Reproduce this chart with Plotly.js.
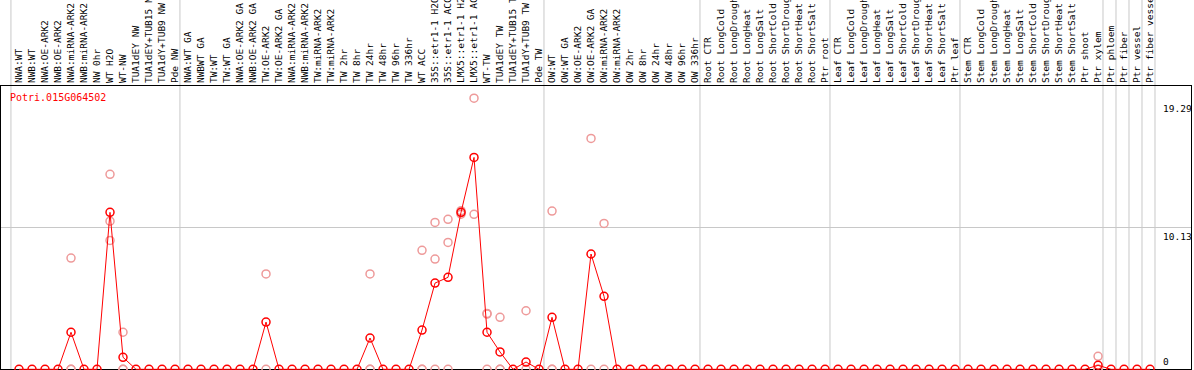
<!DOCTYPE html>
<html>
<head>
<meta charset="utf-8">
<script src="https://cdn.plot.ly/plotly-3.0.1.min.js"></script>
<style>
html,body{margin:0;padding:0;background:#fff;}
#chart{width:1194px;height:370px;}
</style>
</head>
<body>
<div id="chart"></div>
<script>
// ---- data ----
const geneName = "Potri.015G064502";

const samples = [
  "NWA:WT","NWB:WT","NWA:OE-ARK2","NWB:OE-ARK2","NWA:miRNA-ARK2","NWB:miRNA-ARK2",
  "NW 0hr","WT H2O","WT-NW","TUA1dEY NW","TUA1dEY+TUB15 NW","TUA1dY+TUB9 NW","Pde NW",
  "NWA:WT GA","NWBWT GA","TW:WT","TW:WT GA","NWA:OE-ARK2 GA","NWB:OE-ARK2 GA",
  "TW:OE-ARK2","TW:OE-ARK2 GA","NWA:miRNA-ARK2 GA","NWB:miRNA-ARK2 GA","TW:miRNA-ARK2",
  "TW:miRNA-ARK2","TW 2hr","TW 8hr","TW 24hr","TW 48hr","TW 96hr","TW 336hr","WT ACC",
  "35S::etr1-1 H2O","35S::etr1-1 ACC","LMX5::etr1-1 H2O","LMX5::etr1-1 ACC","WT-TW",
  "TUA1dEY TW","TUA1dEY+TUB15 TW","TUA1dY+TUB9 TW","Pde TW",
  "OW:WT","OW:WT GA","OW:OE-ARK2","OW:OE-ARK2 GA","OW:miRNA-ARK2","OW:miRNA-ARK2",
  "OW 2hr","OW 8hr","OW 24hr","OW 48hr","OW 96hr","OW 336hr",
  "Root CTR","Root LongCold","Root LongDrought","Root LongHeat","Root LongSalt",
  "Root ShortCold","Root ShortDrought","Root ShortHeat","Root ShortSalt","Ptr root",
  "Leaf CTR","Leaf LongCold","Leaf LongDrought","Leaf LongHeat","Leaf LongSalt",
  "Leaf ShortCold","Leaf ShortDrought","Leaf ShortHeat","Leaf ShortSalt","Ptr leaf",
  "Stem CTR","Stem LongCold","Stem LongDrought","Stem LongHeat","Stem LongSalt",
  "Stem ShortCold","Stem ShortDrought","Stem ShortHeat","Stem ShortSalt","Ptr shoot",
  "Ptr xylem","Ptr phloem","Ptr fiber","Ptr vessel","Ptr fiber vessel"
];

// group sizes (vertical separators drawn after each group)
const groupSizes = [13, 28, 12, 10, 10, 11, 1, 1, 1, 1];

// mean expression
const meanValues = [
  0,0,0,0,2.65,0,0,11.23,0.86,0,0,0,0,
  0,0,0,0,0,0,3.38,0,0,0,0,0,0,0,2.24,0,0,0,2.81,6.17,6.58,11.23,15.16,2.65,1.24,0,0.52,0,
  3.72,0,0,8.25,5.22,0,0,0,0,0,0,0,
  0,0,0,0,0,0,0,0,0,0,
  0,0,0,0,0,0,0,0,0,0,
  0,0,0,0,0,0,0,0,0,0,0.29,
  0,0,0,0
];

// replicate values (null = none drawn)
const rep1 = [
  null,null,null,null,7.96,null,null,13.95,2.65,null,null,null,null,
  null,null,null,null,null,null,6.82,null,null,null,null,null,null,null,6.82,null,null,null,8.51,10.51,10.73,11.35,19.40,4.00,3.72,null,4.19,null,
  11.32,null,null,16.52,10.44,null,null,null,null,null,null,null,
  null,null,null,null,null,null,null,null,null,null,
  null,null,null,null,null,null,null,null,null,null,
  null,null,null,null,null,null,null,null,null,null,0.93,
  null,null,null,null
];
const rep2 = [
  null,null,null,null,0,null,null,10.60,0,null,null,null,null,
  null,null,null,null,null,null,0,null,null,null,null,null,null,null,0,null,null,null,0,7.89,9.08,11.20,11.09,3.95,0,null,0,null,
  0,null,null,0,0,null,null,null,null,null,null,null,
  null,null,null,null,null,null,null,null,null,null,
  null,null,null,null,null,null,null,null,null,null,
  null,null,null,null,null,null,null,null,null,null,0,
  null,null,null,null
];
const rep3 = [
  null,null,null,null,0,null,null,9.22,0,null,null,null,null,
  null,null,null,null,null,null,null,null,null,null,null,null,null,null,0,null,null,null,0,0,0,11.10,null,0,0,null,null,null,
  0,null,null,null,null,null,null,null,null,null,null,null,
  null,null,null,null,null,null,null,null,null,null,
  null,null,null,null,null,null,null,null,null,null,
  null,null,null,null,null,null,null,null,null,null,0,
  null,null,null,null
];

const yTickVals = [0, 10.13, 19.29];
const yTickText = ["0", "10.13", "19.29"];

// ---- build ----
const idx = samples.map((_, i) => i);
const mono = '"DejaVu Sans Mono", "Liberation Mono", monospace';
const red = '#ff0000';
const pink = '#ee9a9a';

function repTrace(vals) {
  return {
    x: idx, y: vals, type: 'scatter', mode: 'markers',
    marker: {symbol: 'circle-open', size: 8, color: pink, line: {width: 1.5, color: pink}},
    hoverinfo: 'skip', showlegend: false, cliponaxis: false
  };
}

const traces = [
  repTrace(rep1), repTrace(rep2), repTrace(rep3),
  {
    x: idx, y: meanValues, type: 'scatter', mode: 'lines+markers',
    line: {color: red, width: 1},
    marker: {symbol: 'circle-open', size: 8, color: red, line: {width: 1.5, color: red}},
    showlegend: false, cliponaxis: false
  }
];

const shapes = [];
let cum = 0;
shapes.push({type: 'line', xref: 'x', yref: 'paper', x0: -0.62, x1: -0.62, y0: 0, y1: 1.32,
             line: {color: '#c8c8c8', width: 1}, layer: 'below'});
groupSizes.forEach(g => {
  cum += g;
  const xv = cum - 0.62;
  shapes.push({type: 'line', xref: 'x', yref: 'paper', x0: xv, x1: xv, y0: 0, y1: 1.32,
               line: {color: '#c8c8c8', width: 1}, layer: 'below'});
});

const annotations = [
  {xref: 'paper', yref: 'paper', x: 0, y: 1, xanchor: 'left', yanchor: 'top',
   xshift: 7, yshift: -4, text: geneName, showarrow: false,
   font: {family: mono, size: 10, color: red}}
];
yTickVals.forEach((v, k) => {
  annotations.push({
    xref: 'paper', yref: 'y', x: 1, y: v, xanchor: 'left',
    yanchor: v === 0 ? 'bottom' : 'top', xshift: -30, yshift: v === 0 ? 0 : -1,
    text: yTickText[k], showarrow: false, font: {family: mono, size: 9.5, color: '#000'}
  });
});

const layout = {
  width: 1194, height: 370,
  margin: {l: 1, r: 3, t: 86, b: 0, pad: 0},
  paper_bgcolor: '#fff', plot_bgcolor: '#fff',
  xaxis: {
    range: [-1.385, 90.15], side: 'top', automargin: false,
    tickmode: 'array', tickvals: idx, ticktext: samples, tickangle: -90,
    tickfont: {family: mono, size: 9.5, color: '#000'},
    ticks: '', showgrid: false, zeroline: false,
    showline: true, linecolor: '#000', linewidth: 1, mirror: false
  },
  yaxis: {
    range: [-0.05, 20.27], automargin: false,
    tickmode: 'array', tickvals: [10.13], showticklabels: false, ticks: '',
    showgrid: true, gridcolor: '#c8c8c8', gridwidth: 1,
    zeroline: true, zerolinecolor: '#000', zerolinewidth: 1,
    showline: true, linecolor: '#000', linewidth: 1, mirror: true
  },
  shapes: shapes,
  annotations: annotations,
  showlegend: false
};

Plotly.newPlot('chart', traces, layout, {displayModeBar: false, staticPlot: true});
</script>
</body>
</html>
